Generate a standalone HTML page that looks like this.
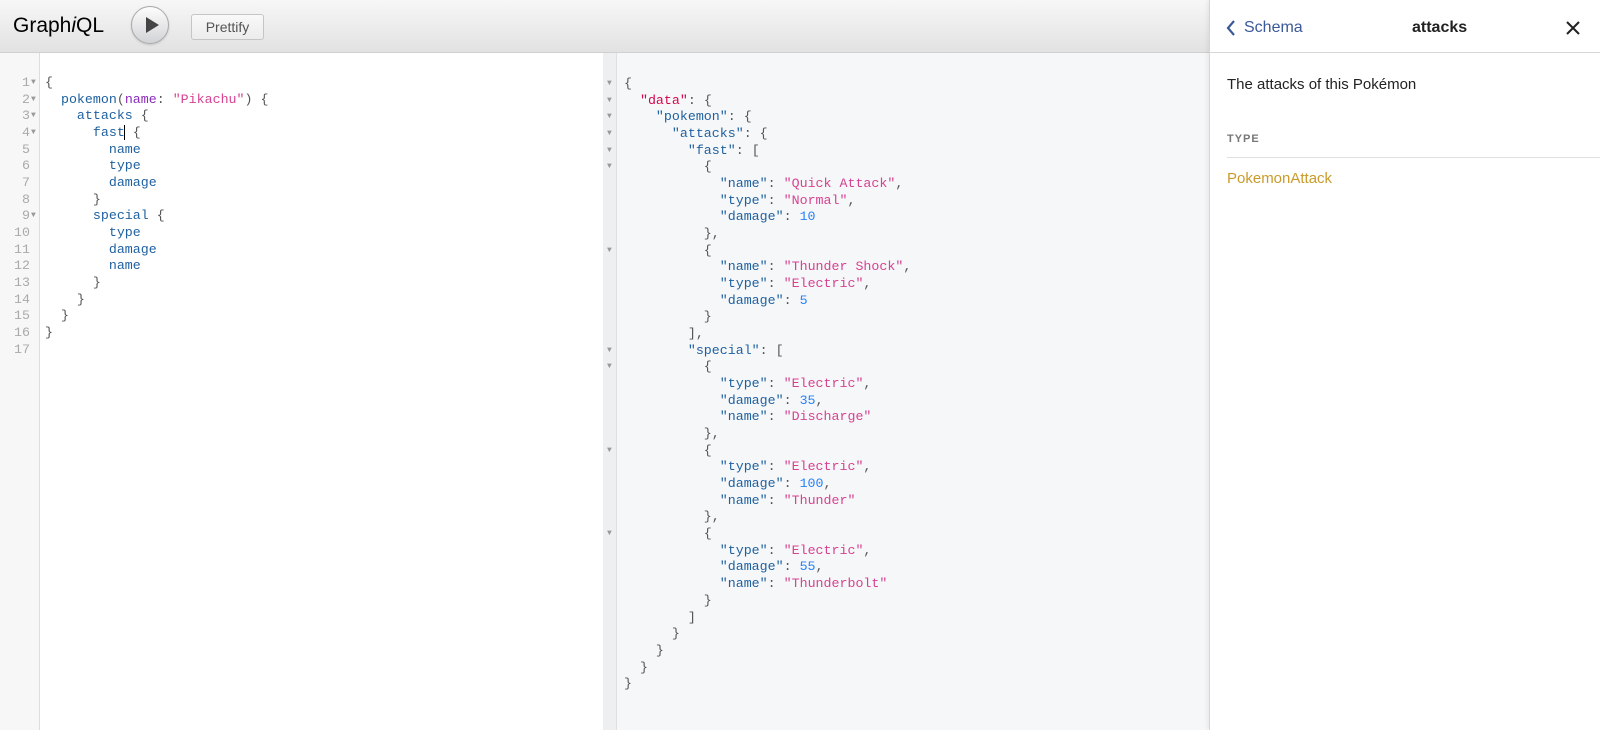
<!DOCTYPE html>
<html><head><meta charset="utf-8"><style>
*{margin:0;padding:0;box-sizing:border-box}
body{width:1600px;height:730px;overflow:hidden;background:#fff;font-family:"Liberation Sans",sans-serif;position:relative}
.tb{position:absolute;left:0;top:0;width:1209px;height:53px;background:linear-gradient(#f7f7f7,#e2e2e2);border-bottom:1px solid #d0d0d0}
.title{position:absolute;left:13px;top:14px;font-size:21px;color:#000}
.play{position:absolute;left:131px;top:6px;width:38px;height:38px;border-radius:50%;background:linear-gradient(#fdfdfd,#d2d3d6);border:1px solid #a9a9aa;box-shadow:0 1px 2px rgba(0,0,0,.15)}
.play:after{content:"";position:absolute;left:14px;top:10px;border-left:13px solid #444;border-top:8px solid transparent;border-bottom:8px solid transparent}
.btn{position:absolute;left:191px;top:14px;width:73px;height:26px;border:1px solid #c5c5c5;border-radius:3px;background:linear-gradient(#f9f9f9,#ececec);font-size:14px;color:#555;text-align:center;line-height:24px}
.code{position:absolute;font-family:"Liberation Mono",monospace;font-size:13.3px;line-height:16.67px;white-space:pre;color:#555}
.gut{position:absolute;left:0;top:53px;width:40px;height:677px;background:#f7f7f7;border-right:1px solid #ddd}
.ln{color:#aaa;text-align:right}
.k{color:#1f61a0}.a{color:#8b2bb9}.s{color:#d64292}.n{color:#2882f9}.r{color:#d2054e}
.res{position:absolute;left:603px;top:53px;width:606px;height:677px;background:#f6f7f8;border-left:1px solid #e0e0e0}
.rg{position:absolute;left:603px;top:53px;width:14px;height:677px;background:#eeeff1;border-right:1px solid #e0e0e0}
.arr{color:#999;font-size:8px}
.doc{position:absolute;left:1209px;top:0;width:391px;height:730px;background:#fff;border-left:1px solid #d6d6d6;box-shadow:-2px 0 4px rgba(0,0,0,.06)}
.dh{position:absolute;left:0;top:0;width:391px;height:53px;border-bottom:1px solid #d6d6d6}
</style></head><body>
<div class="tb">
<div class="title">Graph<i>i</i>QL</div>
<div class="play"></div>
<div class="btn">Prettify</div>
</div>
<div class="gut"></div>
<div class="code ln" style="left:0;top:75px;width:30px">1
2
3
4
5
6
7
8
9
10
11
12
13
14
15
16
17</div>
<div class="code arr" style="left:31px;top:75px;line-height:16.67px">▼
▼
▼
▼




▼</div>
<div class="code" style="left:45px;top:75px">{
  <span class="k">pokemon</span>(<span class="a">name</span>: <span class="s">"Pikachu"</span>) {
    <span class="k">attacks</span> {
      <span class="k">fast</span><span style="border-left:1px solid #000;margin-left:-1px"></span> {
        <span class="k">name</span>
        <span class="k">type</span>
        <span class="k">damage</span>
      }
      <span class="k">special</span> {
        <span class="k">type</span>
        <span class="k">damage</span>
        <span class="k">name</span>
      }
    }
  }
}
</div>
<div class="res"></div>
<div class="rg"></div>
<div class="code arr" style="left:607px;top:76px">▼
▼
▼
▼
▼
▼




▼





▼
▼




▼




▼</div>
<div class="code" style="left:624px;top:76px">{
  <span class="r">"data"</span>: {
    <span class="k">"pokemon"</span>: {
      <span class="k">"attacks"</span>: {
        <span class="k">"fast"</span>: [
          {
            <span class="k">"name"</span>: <span class="s">"Quick Attack"</span>,
            <span class="k">"type"</span>: <span class="s">"Normal"</span>,
            <span class="k">"damage"</span>: <span class="n">10</span>
          },
          {
            <span class="k">"name"</span>: <span class="s">"Thunder Shock"</span>,
            <span class="k">"type"</span>: <span class="s">"Electric"</span>,
            <span class="k">"damage"</span>: <span class="n">5</span>
          }
        ],
        <span class="k">"special"</span>: [
          {
            <span class="k">"type"</span>: <span class="s">"Electric"</span>,
            <span class="k">"damage"</span>: <span class="n">35</span>,
            <span class="k">"name"</span>: <span class="s">"Discharge"</span>
          },
          {
            <span class="k">"type"</span>: <span class="s">"Electric"</span>,
            <span class="k">"damage"</span>: <span class="n">100</span>,
            <span class="k">"name"</span>: <span class="s">"Thunder"</span>
          },
          {
            <span class="k">"type"</span>: <span class="s">"Electric"</span>,
            <span class="k">"damage"</span>: <span class="n">55</span>,
            <span class="k">"name"</span>: <span class="s">"Thunderbolt"</span>
          }
        ]
      }
    }
  }
}</div>
<div class="doc">
<div class="dh">
<svg style="position:absolute;left:15px;top:19px" width="12" height="18"><path d="M9 2 L3 9 L9 16" stroke="#3b5998" stroke-width="2.2" fill="none"/></svg>
<div style="position:absolute;left:34px;top:19px;font-size:16px;color:#3b5998">Schema</div>
<div style="position:absolute;left:202px;top:19px;font-size:16px;font-weight:bold;color:#222">attacks</div>
<svg style="position:absolute;left:356px;top:21px" width="14" height="14"><path d="M1 1L13 13M13 1L1 13" stroke="#222" stroke-width="2"/></svg>
</div>
<div style="position:absolute;left:17px;top:76px;font-size:15px;color:#222">The attacks of this Pokémon</div>
<div style="position:absolute;left:17px;top:133px;font-size:11px;font-weight:bold;color:#777;letter-spacing:1px">TYPE</div>
<div style="position:absolute;left:17px;top:157px;width:374px;border-top:1px solid #e0e0e0"></div>
<div style="position:absolute;left:17px;top:170px;font-size:15px;color:#ca9b2a">PokemonAttack</div>
</div>
</body></html>
